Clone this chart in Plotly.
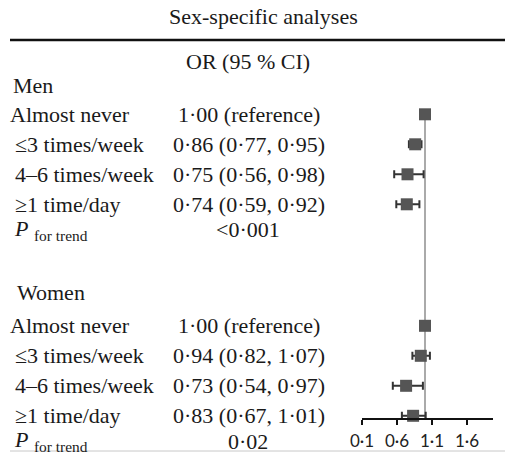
import plotly.graph_objects as go

# ---------------- data ----------------
groups = ["Men", "Women"]
categories = ["Almost never", "≤3 times/week", "4–6 times/week", "≥1 time/day"]
men_or = [1.00, 0.86, 0.75, 0.74]
men_lo = [1.00, 0.77, 0.56, 0.59]
men_hi = [1.00, 0.95, 0.98, 0.92]
women_or = [1.00, 0.94, 0.73, 0.83]
women_lo = [1.00, 0.82, 0.54, 0.67]
women_hi = [1.00, 1.07, 0.97, 1.01]
p_trend = ["<0·001", "0·02"]
tick_vals = [0.1, 0.6, 1.1, 1.6]
tick_text = ["0·1", "0·6", "1·1", "1·6"]
title_text = "Sex-specific analyses"
col_header = "OR (95 % CI)"
ref_value = 1.0

# ---------------- layout constants ----------------
VW, VH = 513, 452          # browser window
OFF = 8                    # default body margin of the html page
W, H = VW - OFF, VH - OFF  # figure size so that it ends at the window edge
ROW0_PX, ROW_PX = 84.3, 30.0          # window pixel of row 0, pixels per row
GROUP_START = [0.0, 7.05]             # row of each group header
HEADER_DY = [0.05, -0.1]              # small nudge of group header text
P_ROW_OFFSET = 4.85                   # P for trend row relative to header
AXIS_PX = 419                          # window pixel y of x axis line
X_LEFT_PX, X_RIGHT_PX = 362, 493       # axis extent (window pixels)
PX_PER_UNIT = 70.0
SERIF = "Liberation Serif"
TXT_COLOR = "#1a1a1a"
FS = 22


def fmt(v):
    return f"{v:.2f}".replace(".", "·")


def px_y(p):  # window pixel -> paper fraction
    return 1 - (p - OFF) / H


def px_x(p):
    return (p - OFF) / W


group_data = [(men_or, men_lo, men_hi), (women_or, women_lo, women_hi)]

fig = go.Figure()
annotations = []

for g, (orv, lo, hi) in enumerate(group_data):
    r0 = GROUP_START[g]
    annotations.append(dict(x=px_x(11 if g == 0 else 15), y=r0 + HEADER_DY[g], xref="paper", yref="y",
                            text=groups[g], showarrow=False, xanchor="left", yanchor="middle",
                            font=dict(family=SERIF, size=FS, color=TXT_COLOR)))
    rows = [r0 + 1 + i for i in range(len(categories))]
    for i, cat in enumerate(categories):
        indent = 8 if i == 0 else 13
        annotations.append(dict(x=px_x(indent), y=rows[i], xref="paper", yref="y",
                                text=cat, showarrow=False, xanchor="left", yanchor="middle",
                                font=dict(family=SERIF, size=FS, color=TXT_COLOR)))
        if i == 0:
            t = f"{fmt(orv[i])} (reference)"
        else:
            t = f"{fmt(orv[i])} ({fmt(lo[i])}, {fmt(hi[i])})"
        annotations.append(dict(x=px_x(249), y=rows[i], xref="paper", yref="y",
                                text=t, showarrow=False, xanchor="center", yanchor="middle",
                                font=dict(family=SERIF, size=FS, color=TXT_COLOR)))
    prow = r0 + P_ROW_OFFSET
    annotations.append(dict(x=px_x(12), y=prow, xref="paper", yref="y",
                            text="<i>P</i> <sub>for trend</sub>", showarrow=False,
                            xanchor="left", yanchor="middle",
                            font=dict(family=SERIF, size=FS, color=TXT_COLOR)))
    annotations.append(dict(x=px_x(248), y=prow, xref="paper", yref="y",
                            text=p_trend[g], showarrow=False, xanchor="center", yanchor="middle",
                            font=dict(family=SERIF, size=FS, color=TXT_COLOR)))

    fig.add_trace(go.Scatter(
        x=orv, y=rows, mode="markers",
        marker=dict(symbol="square", size=12, color="#555555"),
        error_x=dict(type="data", symmetric=False,
                     array=[h - o for h, o in zip(hi, orv)],
                     arrayminus=[o - l for o, l in zip(orv, lo)],
                     color="#333333", thickness=2, width=4),
        showlegend=False, hoverinfo="skip"))

annotations.append(dict(x=px_x(263), y=px_y(16), xref="paper", yref="paper", text=title_text,
                        showarrow=False, xanchor="center", yanchor="middle",
                        font=dict(family=SERIF, size=FS, color=TXT_COLOR)))
annotations.append(dict(x=px_x(248), y=px_y(62), xref="paper", yref="paper", text=col_header,
                        showarrow=False, xanchor="center", yanchor="middle",
                        font=dict(family=SERIF, size=FS, color=TXT_COLOR)))

shapes = [
    dict(type="line", xref="paper", yref="paper", x0=px_x(10), x1=1.02, y0=px_y(40), y1=px_y(40),
         line=dict(color="#111111", width=2.5)),
    dict(type="line", xref="paper", yref="paper", x0=px_x(10), x1=1.02, y0=px_y(451), y1=px_y(451),
         line=dict(color="#c8c8c8", width=1)),
    dict(type="line", xref="x", yref="paper", x0=ref_value, x1=ref_value,
         y0=px_y(110), y1=px_y(AXIS_PX), layer="below",
         line=dict(color="#aaaaaa", width=2)),
]

x_range = [tick_vals[0], tick_vals[0] + (X_RIGHT_PX - X_LEFT_PX) / PX_PER_UNIT]
dom = [px_x(X_LEFT_PX), px_x(X_RIGHT_PX)]

fig.update_layout(
    template="none",
    width=W, height=H, margin=dict(l=0, r=0, t=0, b=0, autoexpand=False),
    paper_bgcolor="white", plot_bgcolor="rgba(0,0,0,0)",
    annotations=annotations, shapes=shapes,
    xaxis=dict(domain=dom, range=x_range, anchor="free", position=px_y(AXIS_PX),
               automargin=False,
               showline=True, linecolor="#111111", linewidth=2,
               ticks="outside", ticklen=5, tickwidth=2, tickcolor="#111111",
               tickvals=tick_vals, ticktext=tick_text, ticklabelstandoff=2,
               tickfont=dict(family="Lato", size=17, color="#222222"),
               showgrid=False, zeroline=False),
    xaxis2=dict(domain=dom, range=x_range, anchor="free", position=px_y(AXIS_PX),
                automargin=False,
                overlaying="x", matches="x", showline=False,
                ticks="inside", ticklen=2, tickwidth=2, tickcolor="#111111",
                tickvals=tick_vals, showticklabels=False, showgrid=False, zeroline=False),
    yaxis=dict(domain=[0, 1], range=[(VH - ROW0_PX) / ROW_PX, -(ROW0_PX - OFF) / ROW_PX],
               visible=False, automargin=False, showgrid=False, zeroline=False),
)

fig.write_html("out.html")
